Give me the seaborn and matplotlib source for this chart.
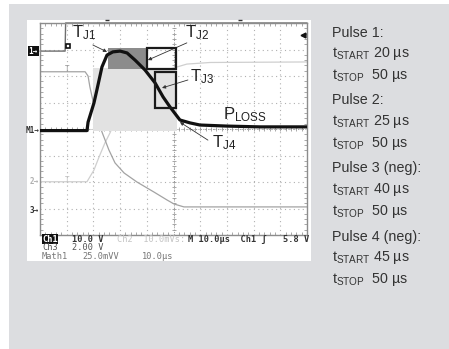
import numpy as np
import pandas as pd
import matplotlib
matplotlib.use('Agg')
import matplotlib.pyplot as plt
import seaborn as sns
from matplotlib.patches import Rectangle

sns.set_style('white')
plt.rcParams['font.family'] = ['Liberation Sans', 'DejaVu Sans']
plt.rcParams['mathtext.fontset'] = 'custom'
plt.rcParams['mathtext.rm'] = 'Liberation Sans'

# ================= data (time in µs, 10 µs/div; amplitude in div from screen centre) =================
ploss_t = [0, 17.6, 18.0, 20.2, 21.3, 23.2, 25.1, 27.3, 30.0, 32.6, 35.6, 39.3,
           43.1, 46.1, 48.7, 52.4, 56.2, 59.9, 70.0, 82.4, 100]
ploss_d = [-0.06, -0.06, 0.26, 0.98, 1.47, 2.34, 2.79, 2.91, 2.94, 2.87, 2.60, 2.23,
           1.74, 1.21, 0.83, 0.34, 0.23, 0.15, 0.11, 0.08, 0.08]

ch1_t = [0, 16.9, 18.0, 18.7, 20.6, 23.2, 25.8, 28.1, 31.5, 36.3, 42.7, 47.6, 50.2, 53.9, 100]
ch1_d = [2.16, 2.16, 2.0, 1.58, 0.72, -0.11, -0.79, -1.28, -1.66, -2.0, -2.38, -2.68, -2.83, -2.94, -2.94]

ch2_t = [0, 17.6, 20.2, 22.1, 24.3, 26.2, 30.0, 37.5, 44.9, 51.3, 55.0, 63.7, 100]
ch2_d = [-1.99, -1.99, -1.55, -1.06, -0.53, -0.15, 0.72, 1.66, 2.15, 2.34, 2.45, 2.51, 2.53]

gate_t = [0, 9.4, 9.6, 100]
gate_d = [2.94, 2.94, 4.0, 4.0]

# shaded areas and boxes: (t_start, t_stop, d_low, d_high)
light_area = (20.0, 51.3, -0.07, 2.30)
dark_area = (25.5, 40.1, 2.26, 3.06)
box_tj2 = (40.1, 50.9, 2.26, 3.06)
box_tj3 = (43.1, 50.9, 0.79, 2.15)

pulse_names = ['Pulse 1:', 'Pulse 2:', 'Pulse 3 (neg):', 'Pulse 4 (neg):']
t_start = [20, 25, 40, 45]
t_stop = [50, 50, 50, 50]

# ================= figure =================
W, H = 449, 349
fig = plt.figure(figsize=(W / 100, H / 100), dpi=100)
fig.patch.set_facecolor('white')

def fx(px):
    return px / W

def fy(py):
    return 1 - py / H

fig.patches.append(Rectangle((fx(9), 0), fx(440), fy(4), transform=fig.transFigure,
                             facecolor='#dcdde0', edgecolor='none', zorder=-2))
fig.patches.append(Rectangle((fx(27), fy(261)), fx(284), 241 / H, transform=fig.transFigure,
                             facecolor='white', edgecolor='none', zorder=-1))

ax = fig.add_axes([fx(40), fy(235), fx(267), 212 / H])
ax.set_zorder(2)
ax.set_facecolor('none')
ax.set_xlim(0, 100)
ax.set_ylim(-4, 4)
ax.set_xticks(np.arange(0, 101, 10))
ax.set_yticks(np.arange(-4, 5, 1))
ax.set_xticks(np.arange(0, 101, 2), minor=True)
ax.set_yticks(np.arange(-4, 4.01, 0.2), minor=True)
ax.tick_params(which='both', direction='in', length=0, labelbottom=False, labelleft=False)
ax.tick_params(which='minor', length=2, color='#9a9a9a', width=0.6, top=True, right=True, bottom=True, left=True)
ax.grid(True, which='major', color='#b0b0b0', lw=0.8, ls=(0, (1, 3)))
for s in ax.spines.values():
    s.set_color('#8c8c8c')
    s.set_linewidth(1.0)

# centre cross with small ticks
ax.axvline(50, color='#9a9a9a', lw=0.7, ls=(0, (1, 1.5)), zorder=1)
ax.axhline(0, color='#9a9a9a', lw=0.7, ls=(0, (1, 1.5)), zorder=1)
ax.scatter(np.full(41, 50.0), np.arange(-4, 4.01, 0.2), marker='_', s=6, lw=0.6, color='#9a9a9a', zorder=1)
ax.scatter(np.arange(0, 101, 2), np.zeros(51), marker='|', s=6, lw=0.6, color='#9a9a9a', zorder=1)

# scope traces
sns.lineplot(x=ch2_t, y=ch2_d, ax=ax, color='#cfcfcf', lw=0.9, estimator=None, sort=False, zorder=2)
sns.lineplot(x=ch1_t, y=ch1_d, ax=ax, color='#a3a3a3', lw=0.9, estimator=None, sort=False, zorder=2)
sns.lineplot(x=gate_t, y=gate_d, ax=ax, color='#6e6e6e', lw=1.0, estimator=None, sort=False, zorder=2, clip_on=False)

for (t0, t1, d0, d1), col in [(light_area, '#e2e2e2'), (dark_area, '#8c8c8c')]:
    ax.add_patch(Rectangle((t0, d0), t1 - t0, d1 - d0, facecolor=col, edgecolor='none', zorder=3))

sns.lineplot(x=ploss_t, y=ploss_d, ax=ax, color='#111111', lw=2.3, estimator=None, sort=False, zorder=5)

for (t0, t1, d0, d1) in [box_tj2, box_tj3]:
    ax.add_patch(Rectangle((t0, d0), t1 - t0, d1 - d0, facecolor='none', edgecolor='#1a1a1a', lw=1.6, zorder=6))

# markers on the screen
ax.text(10.1, 2.26, 'T', fontsize=5.5, color='#9a9a9a', ha='center', va='center', family='DejaVu Sans Mono')
ax.text(10.1, -1.96, 'T', fontsize=5.5, color='#c0c0c0', ha='center', va='center', family='DejaVu Sans Mono')
ax.plot([10.3], [3.13], marker='s', ms=3.5, mfc='white', mec='#111111', mew=1.2, zorder=6)
ax.plot([98.5], [3.55], marker='<', ms=3.5, color='#111111', zorder=6, clip_on=False)
ax.plot([25.1, 74.9], [4.12, 4.12], ls='none', marker='_', ms=3, color='#333333', clip_on=False)

# left channel markers
mk = dict(fontsize=5.5, ha='right', va='center', family='DejaVu Sans Mono', fontweight='bold', clip_on=False)
ax.text(-0.8, 2.94, '1\u2192', color='white', bbox=dict(boxstyle='square,pad=0.1', fc='#111111', ec='none'), **mk)
ax.text(-0.3, -0.06, 'M1\u2192', color='#333333', **mk)
ax.text(-0.3, -1.99, '2\u2192', color='#b0b0b0', **mk)
ax.text(-0.3, -3.06, '3\u2192', color='#333333', **mk)

# annotations
lab = dict(fontsize=12, color='#222222', va='center', ha='left')
arr = dict(arrowstyle='-|>', lw=0.6, color='#333333', mutation_scale=5, shrinkA=0, shrinkB=0)
ax.text(12.0, 3.62, r'$\mathregular{T_{J1}}$', **lab)
ax.annotate('', xy=(25.1, 2.91), xytext=(19.8, 3.17), arrowprops=arr)
ax.text(54.3, 3.62, r'$\mathregular{T_{J2}}$', **lab)
ax.annotate('', xy=(40.4, 2.6), xytext=(55.0, 3.25), arrowprops=arr)
ax.text(56.2, 1.96, r'$\mathregular{T_{J3}}$', **lab)
ax.annotate('', xy=(45.7, 1.55), xytext=(55.4, 1.85), arrowprops=arr)
ax.text(64.4, -0.53, r'$\mathregular{T_{J4}}$', **lab)
ax.annotate('', xy=(52.4, 0.26), xytext=(62.9, -0.42), arrowprops=arr)
ax.text(68.5, 0.53, r'$\mathregular{P_{LOSS}}$', **lab)

# scope status lines
st = dict(fontsize=6.2, family='DejaVu Sans Mono', va='center', ha='left')
fig.text(fx(42), fy(239), 'Ch1', color='white', fontweight='bold',
         bbox=dict(boxstyle='square,pad=0.05', fc='#111111', ec='none'), **st)
fig.text(fx(72), fy(239), '10.0 V', color='#333333', fontweight='bold', **st)
fig.text(fx(117), fy(239), 'Ch2  10.0mVs:', color='#c4c4c4', **st)
fig.text(fx(188), fy(239), 'M 10.0\u00b5s  Ch1 \u0283', color='#333333', fontweight='bold', **st)
fig.text(fx(283), fy(239), '5.8 V', color='#333333', fontweight='bold', **st)
fig.text(fx(42), fy(247.5), 'Ch3', color='#555555', **st)
fig.text(fx(72), fy(247.5), '2.00 V', color='#555555', **st)
fig.text(fx(42), fy(256.5), 'Math1', color='#777777', **st)
fig.text(fx(82), fy(256.5), '25.0mVV', color='#777777', **st)
fig.text(fx(142), fy(256.5), '10.0\u00b5s', color='#777777', **st)

# pulse table on the right
rt = dict(fontsize=10.3, color='#333333', va='center', ha='left')
row_y = [33, 53, 75, 100, 122, 143, 168, 190, 212, 237, 258, 280]
for i, name in enumerate(pulse_names):
    fig.text(fx(332), fy(row_y[3 * i]), name, **rt)
    fig.text(fx(332), fy(row_y[3 * i + 1]), r'$\mathregular{t_{START}}$' + f' {t_start[i]} \u00b5s', **rt)
    fig.text(fx(332), fy(row_y[3 * i + 2]), r'$\mathregular{t_{STOP}}$' + f'  {t_stop[i]} \u00b5s', **rt)

fig.savefig('out.png', dpi=100)
